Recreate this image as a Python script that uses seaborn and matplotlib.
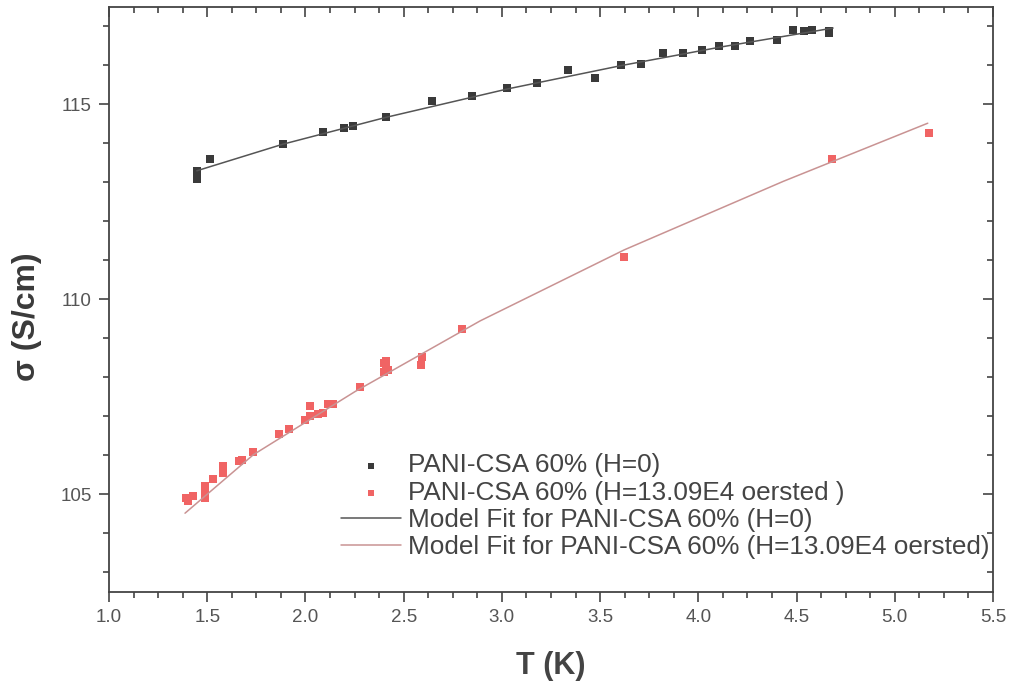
import numpy as np
import pandas as pd
import matplotlib
matplotlib.use("Agg")
import matplotlib.pyplot as plt
from matplotlib.ticker import MultipleLocator
import seaborn as sns

# measured conductivity, H = 0
t_h0 = [1.447, 1.447, 1.447, 1.514, 1.884, 2.088, 2.198, 2.244, 2.41, 2.646,
        2.85, 3.028, 3.179, 3.337, 3.475, 3.605, 3.709, 3.819, 3.923, 4.017,
        4.106, 4.187, 4.265, 4.40, 4.484, 4.539, 4.578, 4.667, 4.667]
s_h0 = [113.3, 113.2, 113.1, 113.6, 113.98, 114.29, 114.39, 114.44, 114.67, 115.10,
        115.22, 115.42, 115.55, 115.89, 115.67, 116.0, 116.03, 116.33, 116.33, 116.40,
        116.49, 116.51, 116.63, 116.65, 116.90, 116.88, 116.92, 116.89, 116.83]

# measured conductivity, H = 13.09E4 oersted
t_h = [1.390, 1.404, 1.429, 1.489, 1.489, 1.489, 1.531, 1.582, 1.582, 1.662,
       1.676, 1.735, 1.866, 1.917, 1.998, 2.023, 2.023, 2.066, 2.091, 2.117,
       2.142, 2.278, 2.40, 2.41, 2.41, 2.40, 2.42, 2.587, 2.595, 2.796,
       3.622, 4.68, 5.172]
s_h = [104.90, 104.82, 104.95, 104.90, 105.08, 105.22, 105.40, 105.74, 105.55, 105.86,
       105.89, 106.08, 106.55, 106.67, 106.91, 107.27, 107.0, 107.06, 107.08, 107.31,
       107.31, 107.75, 108.37, 108.43, 108.30, 108.15, 108.18, 108.31, 108.52, 109.25,
       111.08, 113.6, 114.28]

# model fit curves
fit_t_h0 = [1.447, 1.884, 2.41, 3.03, 3.61, 4.11, 4.686]
fit_s_h0 = [113.30, 113.98, 114.67, 115.40, 116.0, 116.47, 116.96]
fit_t_h = [1.387, 1.735, 2.253, 2.889, 3.622, 4.433, 5.168]
fit_s_h = [104.52, 106.02, 107.64, 109.45, 111.27, 113.03, 114.52]

labels = ["PANI-CSA 60% (H=0)",
          "PANI-CSA 60% (H=13.09E4 oersted )",
          "Model Fit for PANI-CSA 60% (H=0)",
          "Model Fit for PANI-CSA 60% (H=13.09E4 oersted)"]

sns.set_style("ticks")
plt.rcParams['font.family'] = ['Liberation Sans', 'DejaVu Sans']

fig = plt.figure(figsize=(10.12, 6.85), dpi=100)
ax = fig.add_axes([0.1077, 0.1358, 0.8735, 0.854])

black = "#3a3a3a"
red = "#f06464"
axis_col = "#444444"

sns.scatterplot(x=t_h0, y=s_h0, marker="s", s=30, color=black, linewidth=0,
                label=labels[0], ax=ax)
sns.scatterplot(x=t_h, y=s_h, marker="s", s=30, color=red, linewidth=0,
                label=labels[1], ax=ax)
sns.lineplot(x=fit_t_h0, y=fit_s_h0, sort=False, estimator=None, color="#555555",
             linewidth=1.1, label=labels[2], ax=ax)
sns.lineplot(x=fit_t_h, y=fit_s_h, sort=False, estimator=None, color="#c99393",
             linewidth=1.1, label=labels[3], ax=ax)

ax.set_xlim(1.0, 5.5)
ax.set_ylim(102.5, 117.5)

def set_locators(axis_x, axis_y):
    if axis_x is not None:
        axis_x.set_major_locator(MultipleLocator(0.5))
        axis_x.set_minor_locator(MultipleLocator(0.125))
    if axis_y is not None:
        axis_y.set_major_locator(MultipleLocator(5))
        axis_y.set_minor_locator(MultipleLocator(1))

set_locators(ax.xaxis, ax.yaxis)
ax.xaxis.set_major_formatter(lambda v, pos: f"{v:.1f}")

for side in ax.spines.values():
    side.set_color(axis_col)
    side.set_linewidth(1.3)

ax.tick_params(axis="both", which="both", colors=axis_col, labelcolor="#555555",
               labelsize=13.5, width=1.2, direction="out")
ax.tick_params(which="major", length=7.5, pad=5)
ax.tick_params(which="minor", length=4.5)

# Origin-style mirrored ticks pointing inward on top and right
top = ax.secondary_xaxis("top")
set_locators(top.xaxis, None)
right = ax.secondary_yaxis("right")
set_locators(None, right.yaxis)
for sec in (top, right):
    sec.spines[:].set_visible(False)
    sec.tick_params(which="both", direction="in", colors=axis_col, width=1.2,
                    labelleft=False, labelright=False, labeltop=False, labelbottom=False)
    sec.tick_params(which="major", length=7.5)
    sec.tick_params(which="minor", length=4.5)

ax.set_xlabel("T (K)", fontsize=22, fontweight="bold", color=axis_col, labelpad=18)
ax.set_ylabel("σ (S/cm)", fontsize=23, fontweight="bold", color="#3a3a3a")
ax.yaxis.set_label_coords(-0.0758, 0.47)

handles, labs = ax.get_legend_handles_labels()
ax.legend(handles, labs, loc="upper left", bbox_to_anchor=(0.236, 0.277),
          frameon=False, fontsize=18.8, handlelength=2.3, handletextpad=0.27,
          labelspacing=0.12, scatterpoints=1, markerscale=0.8, labelcolor="#444444")

fig.savefig("out.png", dpi=100)
